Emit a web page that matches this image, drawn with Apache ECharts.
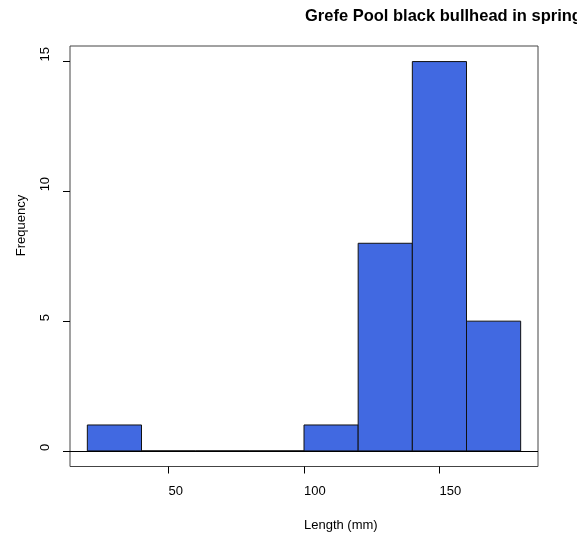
<!DOCTYPE html>
<html>
<head>
<meta charset="utf-8">
<script src="https://cdn.jsdelivr.net/npm/echarts@6/dist/echarts.min.js"></script>
<style>
html,body{margin:0;padding:0;background:#fff;}
#chart{width:577px;height:537px;}
</style>
</head>
<body>
<div id="chart"></div>
<script>
var titleText = 'Grefe Pool black bullhead in spring';
var xLabel = 'Length (mm)';
var yLabel = 'Frequency';
var binStarts = [20, 40, 60, 80, 100, 120, 140, 160];
var binEnds   = [40, 60, 80, 100, 120, 140, 160, 180];
var counts    = [1, 0, 0, 0, 1, 8, 15, 5];
var xTicks = [50, 100, 150];
var yTicks = [0, 5, 10, 15];

var data = binStarts.map(function (s, i) { return [s, binEnds[i], counts[i]]; });
var FONT = '"Liberation Sans", Arial, sans-serif';

var chart = echarts.init(document.getElementById('chart'), null, {renderer: 'canvas'});
chart.setOption({
  animation: false,
  backgroundColor: '#ffffff',
  title: {
    text: titleText,
    left: 305,
    top: 8,
    padding: 0,
    textStyle: {fontFamily: FONT, fontSize: 16.5, fontWeight: 'bold', color: '#000'}
  },
  grid: {left: 70, top: 46, right: 39, bottom: 70, show: true, borderColor: '#444', borderWidth: 1, backgroundColor: 'transparent'},
  xAxis: {
    type: 'value',
    min: 13.6,
    max: 186.4,
    name: xLabel,
    nameLocation: 'middle',
    nameGap: 59,
    nameTextStyle: {fontFamily: FONT, fontSize: 13, color: '#000', align: 'left', verticalAlign: 'middle'},
    axisLine: {show: false, onZero: false},
    splitLine: {show: false},
    axisTick: {show: true, inside: false, length: 7, customValues: xTicks, lineStyle: {color: '#000'}},
    axisLabel: {show: true, customValues: xTicks, margin: 25, align: 'left', verticalAlign: 'middle',
      fontFamily: FONT, fontSize: 13, color: '#000'}
  },
  yAxis: {
    type: 'value',
    min: -0.6,
    max: 15.6,
    name: yLabel,
    nameLocation: 'middle',
    nameRotate: 90,
    nameGap: 49,
    nameTextStyle: {fontFamily: FONT, fontSize: 13, color: '#000', align: 'left', verticalAlign: 'middle'},
    axisLine: {show: false, onZero: false},
    splitLine: {show: false},
    axisTick: {show: true, inside: false, length: 7, customValues: yTicks, lineStyle: {color: '#000'}},
    axisLabel: {show: true, customValues: yTicks, rotate: 90, margin: 25, align: 'left', verticalAlign: 'middle',
      fontFamily: FONT, fontSize: 13, color: '#000'}
  },
  series: [{
    type: 'custom',
    data: data,
    encode: {x: [0, 1], y: 2},
    renderItem: function (params, api) {
      var p0 = api.coord([api.value(0), api.value(2)]);
      var p1 = api.coord([api.value(1), 0]);
      return {
        type: 'rect',
        shape: {x: p0[0], y: p0[1], width: p1[0] - p0[0], height: p1[1] - p0[1]},
        style: {fill: '#4169E1', stroke: '#111', lineWidth: 1}
      };
    },
    markLine: {
      silent: true,
      symbol: ['none', 'none'],
      label: {show: false},
      lineStyle: {color: '#000', width: 1, type: 'solid'},
      data: [{yAxis: 0}]
    }
  }]
});
</script>
</body>
</html>
